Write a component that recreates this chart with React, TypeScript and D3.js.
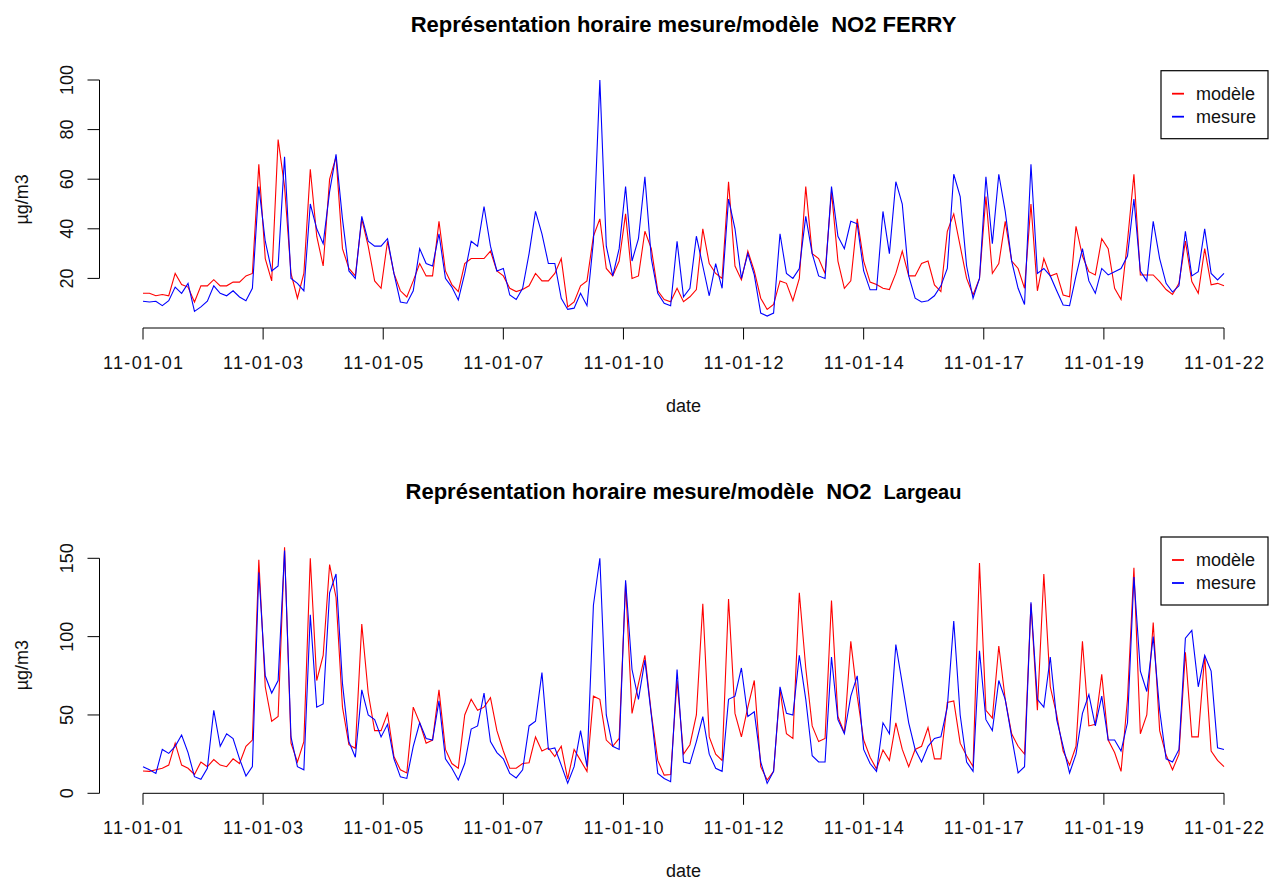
import React from "react";
import * as d3 from "d3";

// hours sampled every 3 h from 11-01-01 00h to 11-01-22 00h (one row per day)
const STEP_HOURS = 3;
const TOTAL_HOURS = 504;

const ferryModele: number[] = [
  14, 14, 13, 13.5, 13, 22, 17.5, 16.5,
  10.5, 17, 17, 19.5, 17, 17, 18.5, 18.5,
  21, 22, 66, 28, 19, 76, 57, 22,
  12, 22, 64, 37, 25, 60, 69, 32,
  24, 21, 44, 33, 19, 16, 35, 22,
  15, 12.5, 19, 26, 21, 21, 43, 23,
  17.5, 14.7, 26, 28, 28, 28, 31, 23,
  21, 16, 14.7, 15.5, 17, 22, 19, 19,
  22, 28, 8.5, 10.5, 17, 19, 37, 44,
  24, 21, 27, 46, 20, 21, 39, 32,
  15, 11.5, 10.6, 16, 10.6, 12.6, 15.5, 40,
  26, 22, 20, 59, 25, 19.4, 31, 23,
  12, 7.5, 9.5, 19, 18, 11, 20, 57,
  30, 28, 22, 55, 27, 16, 19, 44,
  27, 18.5, 17.5, 16, 15.5, 22, 31, 21,
  21, 26, 27, 17.4, 14.7, 39, 46, 33,
  20, 13.3, 20, 53, 22, 26, 43, 27,
  24, 16, 50, 15, 28, 21, 22, 13.3,
  12.6, 41, 29, 22.7, 21.4, 36, 32, 16,
  11.5, 35, 62, 21.4, 21.4, 21.4, 18.7, 15.5,
  13.5, 18, 35, 18.7, 14, 32, 17.4, 18,
  17,
];

const ferryMesure: number[] = [
  10.8, 10.5, 10.8, 9, 11, 16.5, 14, 18,
  6.7, 8.5, 10.8, 17, 14, 13, 15, 12.5,
  11, 16, 57, 35, 23, 25, 69, 20,
  18, 15, 50, 40, 34, 55, 70, 44,
  23, 20, 45, 35, 33, 33, 36, 22,
  10.5, 10, 15, 32, 26, 25, 38, 20,
  16.5, 11.3, 22, 35, 33, 49, 33, 23,
  24, 13.3, 11.5, 16, 30, 47, 38, 26,
  26, 12, 7.5, 8, 14, 9, 35, 100,
  33, 21, 32, 57, 27, 36, 61, 28,
  14, 10, 9, 35, 12.6, 16, 37, 25,
  13, 26, 16, 52, 40, 20, 30, 21.4,
  6, 4.8, 6, 38, 22, 20, 24, 45,
  30, 21, 20, 57, 37, 32, 43, 42,
  23, 15.4, 15.4, 47, 30, 59, 50, 21,
  12, 10.5, 11, 13, 17, 24, 62, 53,
  25, 12, 20, 61, 34, 62, 47, 27,
  16, 9.5, 66, 22, 24, 21, 15, 9.3,
  9, 21, 32, 19, 14, 24, 21.4, 22.7,
  24, 29, 52, 23, 19, 43, 28, 18,
  14.5, 17, 39, 21, 22.7, 40, 22, 19.4,
  22,
];

const largeauModele: number[] = [
  14.2, 14, 15, 16, 18, 32, 18, 16,
  12, 20, 17, 21.5, 18, 17, 22, 19,
  30, 34, 149, 68, 46, 49, 157, 32,
  20, 33, 150, 72, 88, 146, 125, 55,
  31, 28.7, 108, 64, 40, 40, 51, 23.5,
  15, 13, 55, 45, 32, 34, 66, 28,
  19, 16, 50, 60, 53, 55, 61, 40,
  27, 16, 16, 19, 19.5, 36, 27, 29,
  23.5, 30, 9, 28, 21, 14, 62, 60,
  34, 30, 35, 134, 51, 70, 88, 51,
  21, 11.6, 12, 72, 25, 31, 50, 121,
  36, 25, 21, 124, 51, 36, 55, 72,
  17, 8.5, 14, 66, 38, 35, 128, 80,
  43, 33, 35, 123, 49, 38.5, 97, 62,
  34, 23, 15.5, 27.6, 21, 45, 28, 17,
  28, 30, 42, 22, 22, 58, 59, 32,
  24, 17, 147, 53, 48, 94, 60, 38,
  30, 25, 121, 53, 140, 68, 50, 27,
  18, 30, 97, 43, 44, 76, 34, 26,
  14, 60, 144, 38, 50, 109, 40, 24.4,
  15, 25, 90, 36, 36, 88, 27, 21,
  17,
];

const largeauMesure: number[] = [
  17, 15, 12.7, 28, 25.5, 30, 37.2, 26,
  10.6, 8.9, 16, 53, 30, 38, 35, 22,
  11, 17, 141, 75, 64, 72, 155, 36,
  17, 15, 114, 55, 57, 128, 140, 70,
  33, 23, 66, 50, 47, 36, 44, 22,
  10.5, 9.5, 30, 45, 35, 34, 59, 22,
  16, 8.5, 19, 41, 43, 64, 33, 26,
  22, 12.7, 9.8, 15, 43, 46, 77, 28,
  29, 18, 6.5, 17, 40, 17, 120, 150,
  50, 30, 28, 136, 79, 60, 85, 50,
  12.7, 9.5, 7.4, 79, 20, 19, 33, 49,
  25, 16, 14, 60, 62, 80, 49, 52,
  20, 6.3, 14, 68, 51, 50, 88, 60,
  24, 20, 20, 87, 47, 38, 62, 75,
  28, 19, 14, 45, 38, 95, 70, 45,
  28, 20, 30, 35, 36, 55, 110, 50,
  20, 14, 91, 47, 40, 72, 60, 36,
  13, 17, 122, 60, 55, 87, 47, 30,
  13, 25, 51, 63, 43, 62, 34, 34,
  27, 45, 138, 78, 65, 100, 53, 22,
  20, 28, 99, 104, 68, 88, 78, 29,
  28,
];

const dateLabels: string[] = [
  "11-01-01", "11-01-03", "11-01-05", "11-01-07", "11-01-10",
  "11-01-12", "11-01-14", "11-01-17", "11-01-19", "11-01-22",
];

const ferryYTicks: number[] = [20, 40, 60, 80, 100];
const largeauYTicks: number[] = [0, 50, 100, 150];

const seriesNames: string[] = ["modèle", "mesure"];
const seriesColors: string[] = ["#ff0000", "#0000ff"];

const FONT = "'Liberation Sans', Arial, Helvetica, sans-serif";

type PanelProps = {
  titleMain: string;
  titleSite: string;
  siteSize: number;
  siteGap: string;
  modele: number[];
  mesure: number[];
  yTicks: number[];
  yDomainMax: number;
  yTop: number;
  yBottom: number;
  titleBaseline: number;
  legendTop: number;
};

const xScale = d3.scaleLinear().domain([0, TOTAL_HOURS]).range([143, 1224]);

function Panel(p: PanelProps) {
  const y = d3.scaleLinear().domain([0, p.yDomainMax]).range([p.yBottom, p.yTop]);
  const line = d3
    .line<number>()
    .x((_, i) => xScale(i * STEP_HOURS))
    .y((d) => y(d));
  const axisY = p.yBottom;
  const tickPositions = d3.range(dateLabels.length).map(
    (k) => (k * TOTAL_HOURS) / (dateLabels.length - 1)
  );
  const yAxisX = 99.5;
  const yFirst = p.yTicks[0];
  const yLast = p.yTicks[p.yTicks.length - 1];
  const plotMidY = (axisY + p.legendTop) / 2;
  const lg = { x: 1161, y: p.legendTop, w: 107, h: 68 };
  return (
    <g fontFamily={FONT}>
      <text
        x={683.5}
        y={p.titleBaseline}
        textAnchor="middle"
        fontWeight="bold"
        fontSize={22}
        style={{ whiteSpace: "pre" }}
      >
        <tspan>{p.titleMain + p.siteGap}</tspan>
        <tspan fontSize={p.siteSize}>{p.titleSite}</tspan>
      </text>

      <path d={line(p.modele) || ""} fill="none" stroke={seriesColors[0]} strokeWidth={1.1} />
      <path d={line(p.mesure) || ""} fill="none" stroke={seriesColors[1]} strokeWidth={1.1} />

      <line x1={xScale(0)} x2={xScale(TOTAL_HOURS)} y1={axisY} y2={axisY} stroke="#000" strokeWidth={1} />
      {tickPositions.map((h, k) => (
        <g key={"xt" + k}>
          <line x1={xScale(h)} x2={xScale(h)} y1={axisY} y2={axisY + 11.5} stroke="#000" strokeWidth={1} />
          <text
            x={xScale(h)}
            y={axisY + 40.5}
            textAnchor="middle"
            fontSize={18}
            textLength={80}
            lengthAdjust="spacing"
            fill="#111"
          >
            {dateLabels[k]}
          </text>
        </g>
      ))}
      <text x={683.5} y={axisY + 84} textAnchor="middle" fontSize={18} fill="#111">
        date
      </text>

      <line x1={yAxisX} x2={yAxisX} y1={y(yFirst)} y2={y(yLast)} stroke="#000" strokeWidth={1} />
      {p.yTicks.map((t) => (
        <g key={"yt" + t}>
          <line x1={yAxisX} x2={yAxisX - 12} y1={y(t)} y2={y(t)} stroke="#000" strokeWidth={1} />
          <text
            transform={`translate(72.7,${y(t)}) rotate(-90)`}
            textAnchor="middle"
            fontSize={18}
            fill="#111"
          >
            {String(t)}
          </text>
        </g>
      ))}
      <text
        transform={`translate(28,${plotMidY}) rotate(-90)`}
        textAnchor="middle"
        fontSize={18}
        fill="#111"
      >
        µg/m3
      </text>

      <rect x={lg.x} y={lg.y} width={lg.w} height={lg.h} fill="#fff" stroke="#000" strokeWidth={1.2} />
      {seriesNames.map((name, i) => {
        const ly = lg.y + 23 + i * 23;
        return (
          <g key={name}>
            <line x1={1172} x2={1184} y1={ly} y2={ly} stroke={seriesColors[i]} strokeWidth={1.8} />
            <text x={1196} y={ly} dominantBaseline="central" fontSize={18} fill="#111">
              {name}
            </text>
          </g>
        );
      })}
    </g>
  );
}

export default function App() {
  return (
    <svg
      width={1270}
      height={882}
      style={{ position: "absolute", left: 0, top: 0, background: "#fff" }}
    >
      <rect x={0} y={0} width={1270} height={882} fill="#fff" />
      <Panel
        titleMain="Représentation horaire mesure/modèle  NO2"
        titleSite="FERRY"
        siteSize={22}
        siteGap=" "
        modele={ferryModele}
        mesure={ferryMesure}
        yTicks={ferryYTicks}
        yDomainMax={100}
        yTop={80}
        yBottom={328}
        titleBaseline={32}
        legendTop={70.7}
      />
      <Panel
        titleMain="Représentation horaire mesure/modèle  NO2"
        titleSite="Largeau"
        siteSize={20}
        siteGap="  "
        modele={largeauModele}
        mesure={largeauMesure}
        yTicks={largeauYTicks}
        yDomainMax={150}
        yTop={558.3}
        yBottom={793.3}
        titleBaseline={499}
        legendTop={537}
      />
    </svg>
  );
}
